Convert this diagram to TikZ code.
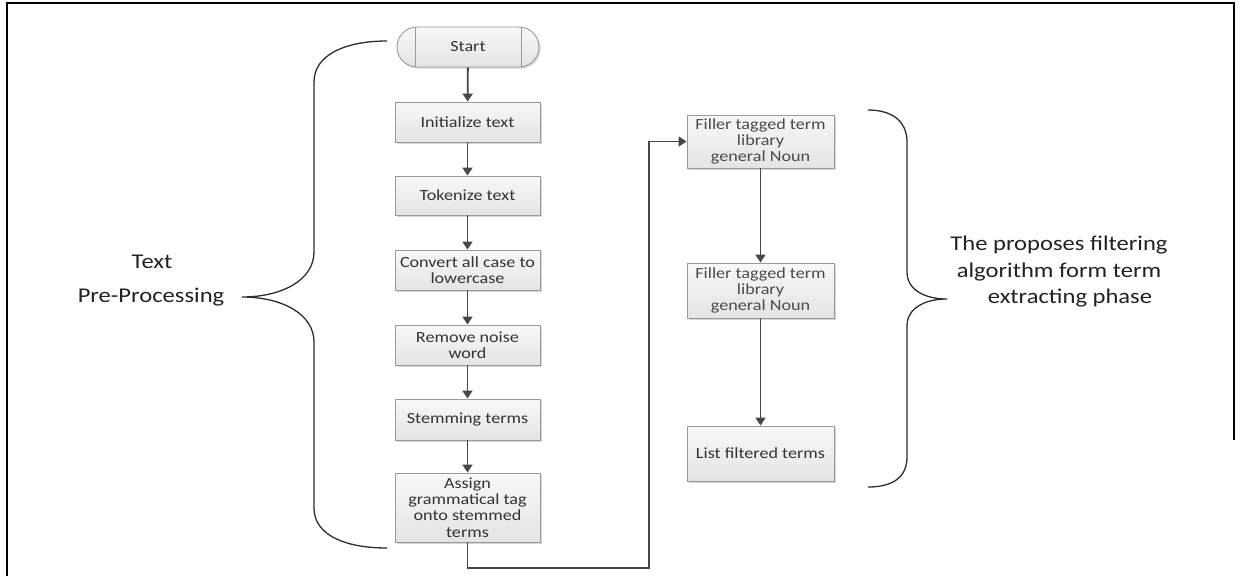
\documentclass[tikz,border=0pt]{standalone}
\usepackage{fontspec}
\setmainfont{Carlito}
\newfontfamily\cfont{Carlito}[FakeStretch=1.17]
\usetikzlibrary{shapes.misc,arrows.meta,shadows}
\definecolor{boxline}{HTML}{9A9A9A}
\definecolor{boxtop}{HTML}{F8F8F8}
\definecolor{boxbot}{HTML}{E4E4E4}
\definecolor{boxtext}{HTML}{333333}
\definecolor{boxtextb}{HTML}{4A4A4A}
\definecolor{arrowc}{HTML}{474747}
\definecolor{bracec}{HTML}{2E2E2E}
\definecolor{labc}{HTML}{222222}
\begin{document}
\begin{tikzpicture}[x=1pt,y=-1pt,
  boxbase/.style={draw=boxline, line width=0.9pt, top color=boxtop, bottom color=boxbot,
    inner sep=2pt, align=center, text=boxtext,
    font=\cfont\fontsize{15.5}{16.3}\selectfont,
    drop shadow={shadow xshift=1.6pt, shadow yshift=-1.6pt, fill=black, opacity=0.16}},
  proc/.style={boxbase, rectangle, minimum width=145pt, minimum height=40pt},
  fillerbox/.style={proc, minimum width=147pt, text=boxtextb, font=\cfont\fontsize{15.5}{15.8}\selectfont},
  startbox/.style={boxbase, rounded rectangle, minimum width=146pt, minimum height=40pt},
  arr/.style={draw=arrowc, line width=1.8pt, -{Triangle[width=10pt,length=8pt]}},
  brace/.style={draw=bracec, line width=1.3pt},
  lab/.style={text=labc, font=\cfont\fontsize{21}{26.5}\selectfont, align=center}]
\useasboundingbox (0,0) rectangle (1241,576);
\fill[white] (0,0) rectangle (1241,576);
% frame
\draw[line width=2.5pt, black] (7,576) -- (7,3) -- (1234,3) -- (1234,440);
% left column
\node[startbox] (start) at (468,47) {Start};
\draw[draw=boxline, line width=0.9pt] ([xshift=-53pt]start.north) -- ([xshift=-53pt]start.south);
\draw[draw=boxline, line width=0.9pt] ([xshift=53pt]start.north) -- ([xshift=53pt]start.south);
\node[proc] (init) at (467.5,122) {Initialize text};
\node[proc, minimum height=39pt] (tok) at (467.5,195.5) {Tokenize text};
\node[proc] (conv) at (467.5,270) {Convert all case to\\lowercase};
\node[proc] (noise) at (467.5,345) {Remove noise\\word};
\node[proc, minimum height=41pt] (stem) at (467.5,419.5) {Stemming terms};
\node[proc, minimum height=69pt] (assign) at (467.5,507.5) {Assign\\grammatical tag\\onto stemmed\\terms};
% right column
\node[fillerbox, minimum height=53pt] (f1) at (760.5,141.5) {Filler tagged term\\library\\general Noun};
\node[fillerbox, minimum height=55pt] (f2) at (760.5,290.5) {Filler tagged term\\library\\general Noun};
\node[proc, minimum width=147pt, minimum height=55pt] (list) at (760.5,453.5) {List filtered terms};
% connectors
\draw[arr] (start) -- (init);
\draw[arr] (init) -- (tok);
\draw[arr] (tok) -- (conv);
\draw[arr] (conv) -- (noise);
\draw[arr] (noise) -- (stem);
\draw[arr] (stem) -- (assign);
\coordinate (c1) at (649,568);
\draw[arr] (assign.south) |- (c1) |- (f1.west);
\draw[arr] (f1) -- (f2);
\draw[arr] (f2) -- (list);
% left brace
\draw[brace] (387,41) .. controls (345,41) and (314,55) .. (314,82)
  -- (314,252) .. controls (314,280) and (282,297) .. (242,297)
  .. controls (282,297) and (314,314) .. (314,342)
  -- (314,508) .. controls (314,535) and (345,548) .. (387,548);
% right brace
\draw[brace] (868,110) .. controls (893,110) and (907,122) .. (907,142)
  -- (907,272) .. controls (907,290) and (925,299) .. (947,299)
  .. controls (925,299) and (907,308) .. (907,326)
  -- (907,457) .. controls (907,477) and (893,487) .. (868,487);
% labels
\node[lab] (ltext) at (152,262) {Text};
\node[lab] (lpre) at (151,297) {Pre-Processing};
\node[lab] (rtext) at (1059,272) {The proposes filtering\\algorithm form term\\\hspace*{22pt}extracting phase};
\end{tikzpicture}
\end{document}
